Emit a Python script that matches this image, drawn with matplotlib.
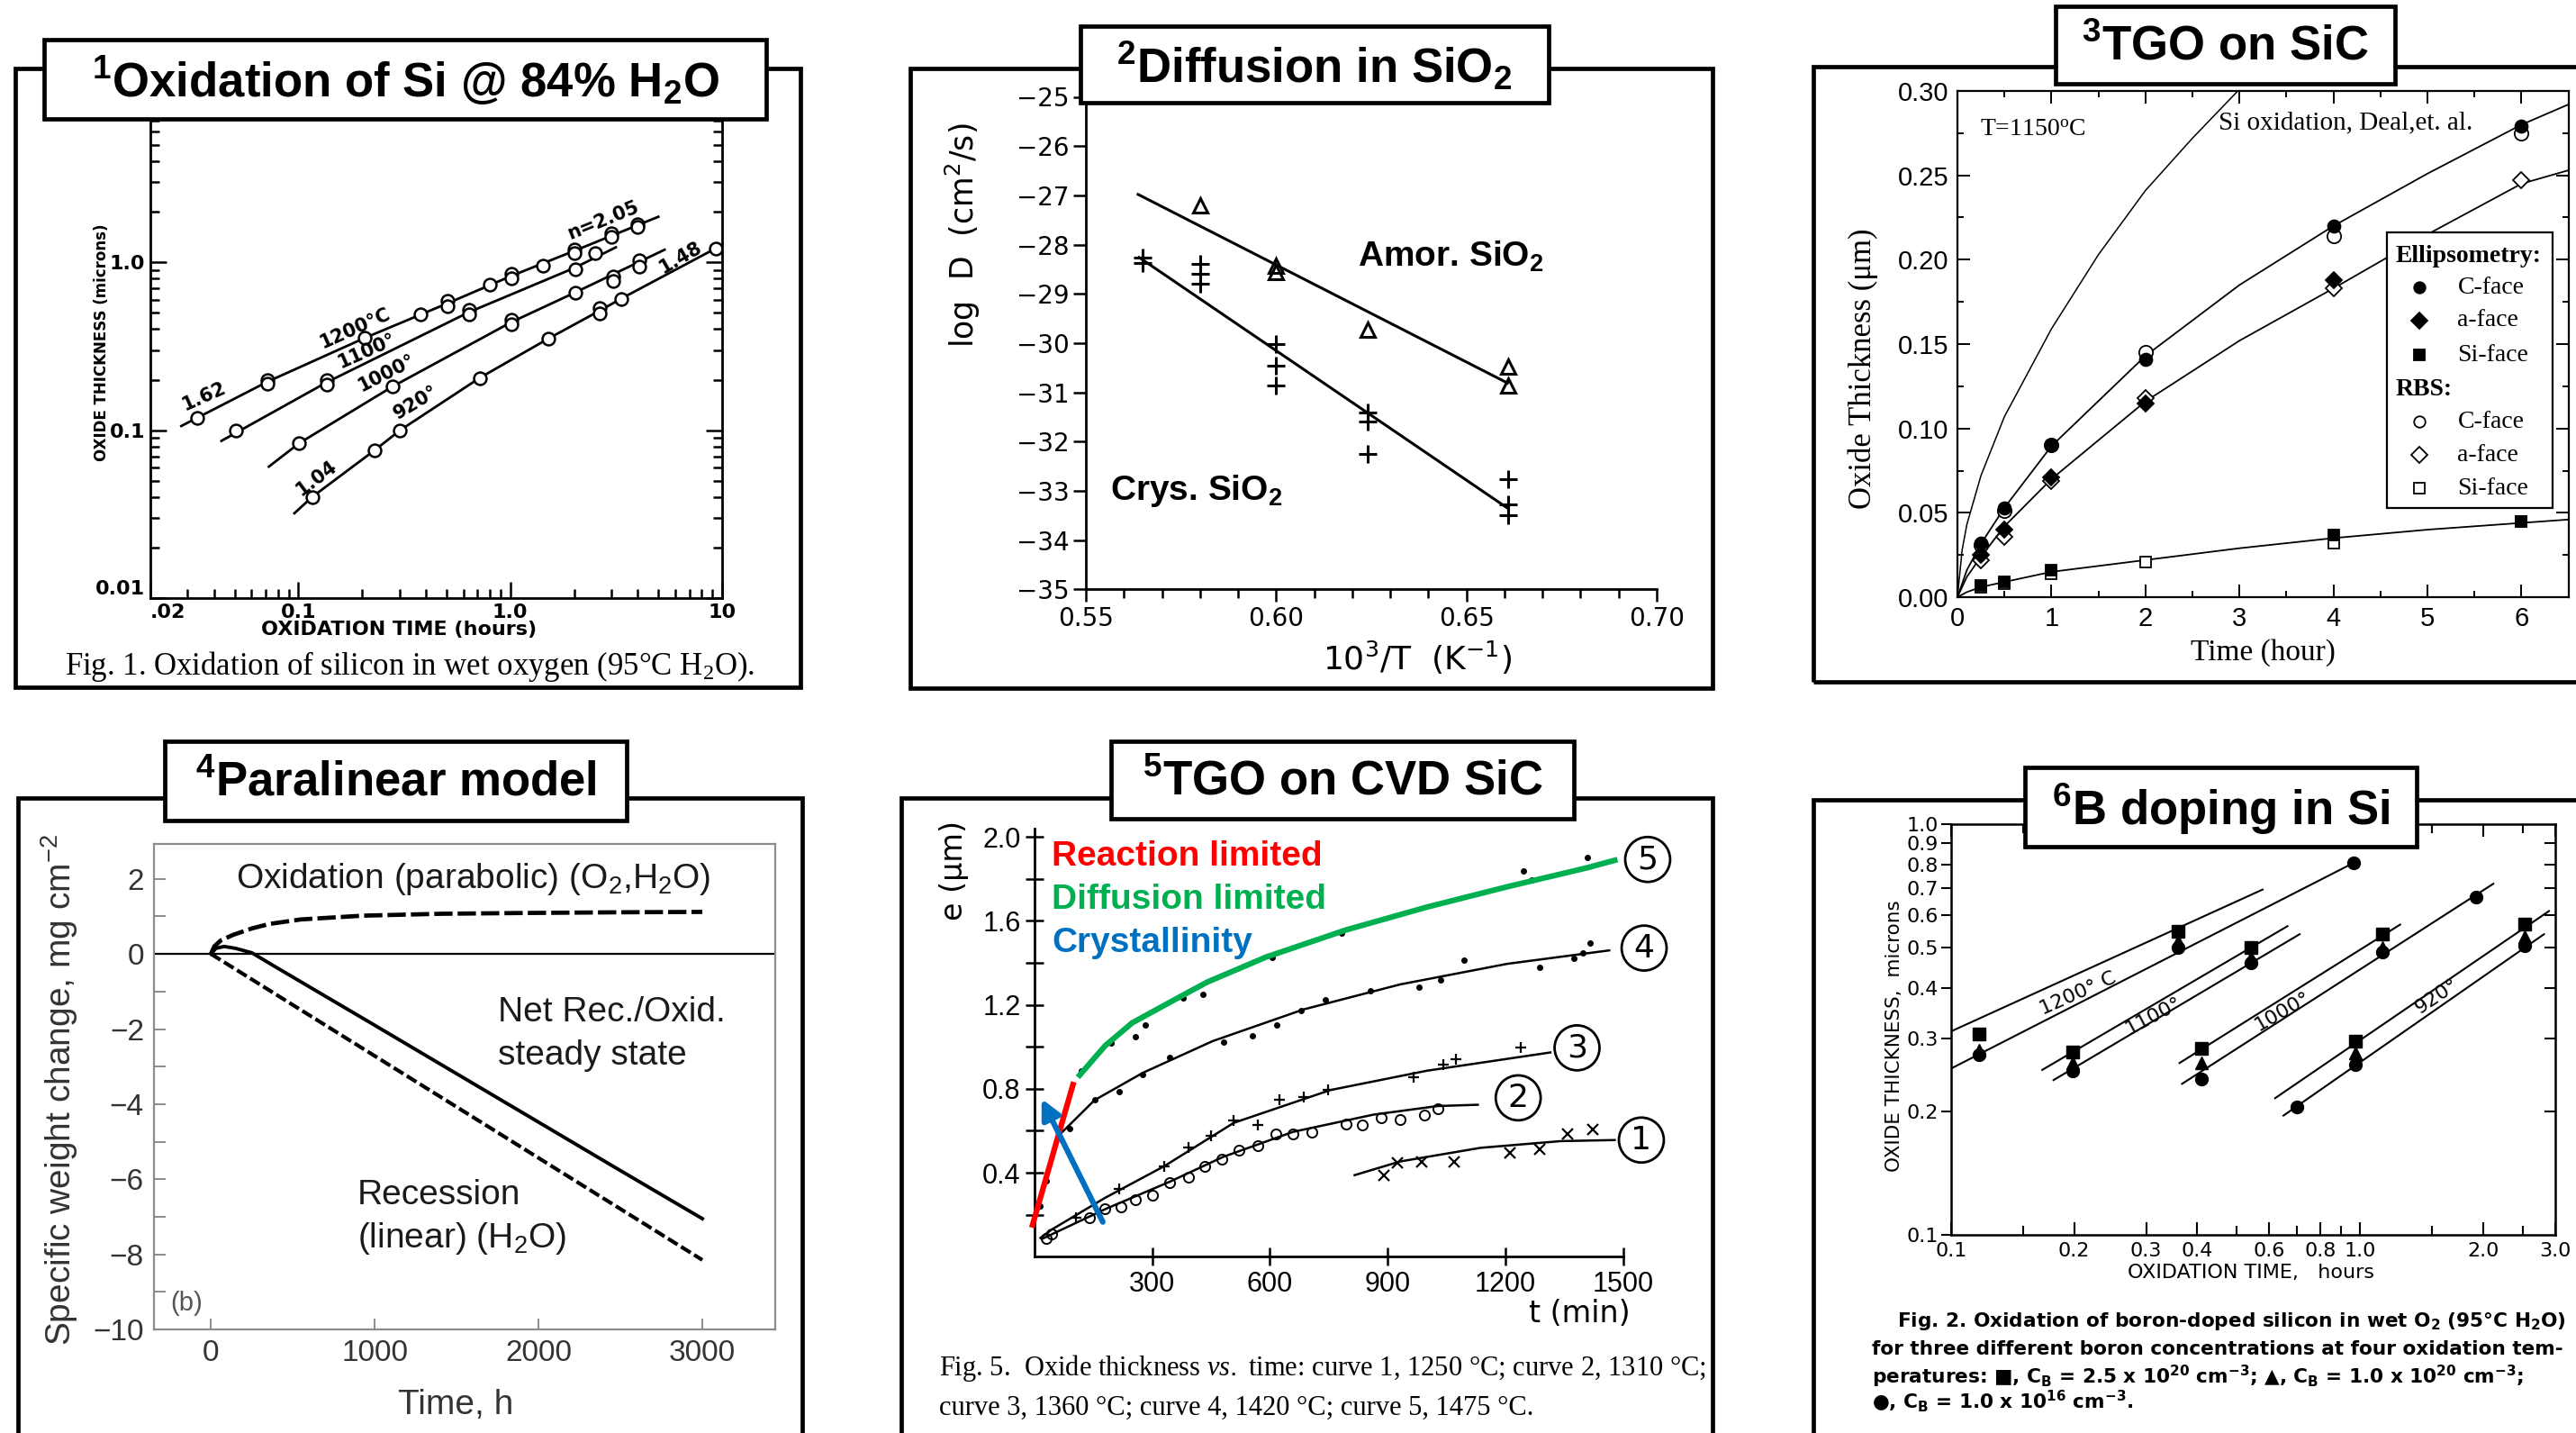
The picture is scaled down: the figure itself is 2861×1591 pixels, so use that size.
#! /usr/bin/env python3
"""
Oxidation kinetics montage: six literature panels on one sheet
"""

import matplotlib
matplotlib.use("Agg")
import matplotlib.pyplot as plt
from matplotlib.patches import Rectangle
from matplotlib.ticker import (FixedLocator, FixedFormatter, FormatStrFormatter,
                               MultipleLocator, NullFormatter, NullLocator)

# ---------------- data ----------------
titles = ["$^1$Oxidation of Si @ 84% H$_2$O", "$^2$Diffusion in SiO$_2$",
          "$^3$TGO on SiC", "$^4$Paralinear model",
          "$^5$TGO on CVD SiC", "$^6$B doping in Si"]

# panel 1: oxide thickness (microns) vs time (hours), wet O2
p1_line_t = [[0.028, 0.0717, 0.206, 0.505, 1.01, 2.0, 5.0],
             [0.0433, 0.136, 0.638, 2.02, 3.15],
             [0.0725, 0.101, 0.278, 1.01, 2.02, 5.35],
             [0.0957, 0.116, 0.229, 0.302, 0.717, 1.51, 2.64, 3.33, 9.3]]
p1_line_x = [[0.106, 0.195, 0.355, 0.57, 0.83, 1.17, 1.87],
             [0.0864, 0.193, 0.505, 0.93, 1.23],
             [0.0607, 0.0838, 0.182, 0.44, 0.661, 1.19],
             [0.032, 0.040, 0.076, 0.1, 0.205, 0.351, 0.515, 0.607, 1.21]]
p1_pt_t = [[0.0333, 0.0717, 0.0717, 0.206, 0.377, 0.505, 0.505, 0.80, 1.01,
            1.01, 1.43, 2.0, 2.0, 3.0, 3.0, 4.0, 4.0],
           [0.0506, 0.136, 0.136, 0.638, 0.638, 2.02, 2.52],
           [0.101, 0.278, 1.01, 1.01, 2.02, 3.07, 3.07, 4.05, 4.05],
           [0.116, 0.229, 0.302, 0.717, 1.51, 2.64, 2.64, 3.33, 9.3]]
p1_pt_x = [[0.119, 0.199, 0.19, 0.355, 0.493, 0.592, 0.55, 0.738, 0.86,
            0.80, 0.96, 1.2, 1.14, 1.5, 1.42, 1.68, 1.63],
           [0.1, 0.199, 0.187, 0.52, 0.493, 0.913, 1.13],
           [0.0838, 0.182, 0.453, 0.426, 0.661, 0.823, 0.774, 1.03, 0.94],
           [0.040, 0.076, 0.1, 0.205, 0.351, 0.534, 0.496, 0.607, 1.21]]
p1_notes = ["n=2.05", "1.62", "1200°C", "1100°", "1000°", "920°", "1.04", "1.48"]
p1_note_t = [2.75, 0.036, 0.185, 0.21, 0.26, 0.36, 0.122, 6.4]
p1_note_x = [1.78, 0.16, 0.405, 0.296, 0.218, 0.147, 0.052, 1.07]
p1_note_rot = [22, 24, 24, 24, 27, 31, 37, 30]

# panel 2: log D vs 1000/T
p2_amor_line_x = [0.5637, 0.6608]
p2_amor_line_y = [-26.98, -30.81]
p2_crys_line_x = [0.564, 0.661]
p2_crys_line_y = [-28.26, -33.36]
p2_amor_x = [0.580, 0.600, 0.600, 0.624, 0.661, 0.661]
p2_amor_y = [-27.2, -28.43, -28.55, -29.72, -30.48, -30.86]
p2_crys_x = [0.565, 0.565, 0.580, 0.580, 0.580, 0.600, 0.600, 0.600,
             0.624, 0.624, 0.624, 0.661, 0.661, 0.661]
p2_crys_y = [-28.26, -28.37, -28.4, -28.6, -28.8, -30.02, -30.45, -30.86,
             -31.4, -31.6, -32.25, -32.77, -33.27, -33.49]

# panel 3: oxide thickness (um) vs time (hour), T = 1150 C
p3_deal_t = [0, 0.05, 0.1, 0.25, 0.5, 1, 1.5, 2, 2.5, 3.0]
p3_deal_x = [0, 0.028, 0.043, 0.072, 0.107, 0.159, 0.203, 0.241, 0.272, 0.301]
p3_fit_t = [0, 0.1, 0.25, 0.5, 1, 2, 3, 4, 5, 6, 6.5]
p3_fit_c = [0, 0.016, 0.0316, 0.053, 0.0895, 0.143, 0.185, 0.22, 0.251, 0.28, 0.292]
p3_fit_a = [0, 0.012, 0.024, 0.042, 0.07, 0.116, 0.152, 0.183, 0.215, 0.245, 0.253]
p3_fit_s = [0, 0.003, 0.006, 0.009, 0.015, 0.022, 0.029, 0.035, 0.040, 0.044, 0.046]
p3_ell_c_t = [0.25, 0.5, 1, 2, 4, 6]
p3_ell_c = [0.032, 0.053, 0.09, 0.141, 0.22, 0.279]
p3_ell_a_t = [0.25, 0.5, 1, 2, 4]
p3_ell_a = [0.025, 0.040, 0.071, 0.115, 0.188]
p3_ell_s_t = [0.25, 0.5, 1, 4, 6]
p3_ell_s = [0.007, 0.009, 0.016, 0.037, 0.045]
p3_rbs_t = [0.25, 0.5, 1, 2, 4, 6]
p3_rbs_c = [0.031, 0.051, 0.09, 0.145, 0.214, 0.275]
p3_rbs_a = [0.022, 0.036, 0.069, 0.118, 0.183, 0.247]
p3_rbs_s = [0.006, 0.008, 0.014, 0.021, 0.032, 0.045]
p3_legend = ["Ellipsometry:", "C-face", "a-face", "Si-face",
             "RBS:", "C-face", "a-face", "Si-face"]

# panel 4: paralinear weight change (mg/cm2) vs time (h)
p4_para_t = [0, 20, 60, 136, 250, 358, 550, 927, 1400, 1877, 2500, 3000]
p4_para_w = [0, 0.2, 0.36, 0.51, 0.68, 0.8, 0.92, 1.02, 1.07, 1.09, 1.11, 1.12]
p4_net_t = [0, 30, 80, 150, 250, 400, 700, 1000, 1500, 2000, 2500, 3000]
p4_net_w = [0, 0.15, 0.2, 0.15, 0.03, -0.36, -1.13, -1.9, -3.19, -4.48, -5.77, -7.05]
p4_rec_t = [0, 3000]
p4_rec_w = [0, -8.15]

# panel 5: oxide thickness e (um) vs t (min), CVD SiC
p5_line_t = [[816, 932, 1137, 1342, 1479],
             [21, 180, 344, 481, 659, 864, 1028, 1130],
             [15, 44, 180, 331, 508, 754, 1000, 1315],
             [60, 87, 153, 276, 454, 686, 932, 1205, 1465]]
p5_line_e = [[0.389, 0.454, 0.519, 0.551, 0.556],
             [0.087, 0.227, 0.357, 0.476, 0.595, 0.677, 0.718, 0.724],
             [0.09, 0.13, 0.281, 0.432, 0.638, 0.794, 0.886, 0.973],
             [0.575, 0.624, 0.746, 0.876, 1.027, 1.178, 1.297, 1.395, 1.459]]
p5_c1_t = [891, 925, 987, 1069, 1212, 1287, 1359, 1424]
p5_c1_e = [0.389, 0.448, 0.454, 0.454, 0.497, 0.512, 0.584, 0.605]
p5_c2_t = [30, 44, 139, 180, 221, 256, 301, 344, 392, 433, 478, 522, 570,
           615, 659, 706, 795, 836, 884, 932, 994, 1028]
p5_c2_e = [0.086, 0.108, 0.184, 0.231, 0.238, 0.27, 0.292, 0.352, 0.378,
           0.432, 0.465, 0.508, 0.53, 0.584, 0.584, 0.595, 0.634, 0.627,
           0.66, 0.653, 0.677, 0.703]
p5_c3_t = [105, 215, 331, 392, 451, 508, 570, 625, 686, 748, 966, 1041, 1075, 1240]
p5_c3_e = [0.184, 0.324, 0.432, 0.519, 0.577, 0.649, 0.627, 0.746, 0.761,
           0.794, 0.854, 0.915, 0.94, 0.995]
p5_c4_t = [14, 30, 89, 153, 215, 276, 344, 481, 556, 618, 679, 741, 857,
           980, 1035, 1096, 1287, 1376, 1397, 1417]
p5_c4_e = [0.24, 0.36, 0.61, 0.746, 0.785, 0.869, 0.951, 1.023, 1.053, 1.103,
           1.174, 1.226, 1.265, 1.286, 1.319, 1.412, 1.377, 1.42, 1.449, 1.496]
p5_c5_t = [119, 194, 256, 283, 379, 429, 607, 782, 1246, 1267, 1410]
p5_c5_e = [0.886, 1.016, 1.049, 1.103, 1.232, 1.248, 1.427, 1.542, 1.838,
           1.795, 1.903]
p5_diff_t = [115, 180, 249, 344, 440, 590, 795, 1000, 1205, 1410, 1479]
p5_diff_e = [0.865, 1.005, 1.114, 1.211, 1.308, 1.427, 1.557, 1.665, 1.762,
             1.853, 1.888]
p5_react_t = [-5, 98]
p5_react_e = [0.152, 0.82]
p5_cryst_from = (174, 0.166)
p5_cryst_to = (18, 0.752)
p5_curve_ids = ["1", "2", "3", "4", "5"]
p5_id_t = [1547, 1233, 1383, 1554, 1563]
p5_id_e = [0.556, 0.757, 0.995, 1.47, 1.892]

# panel 6: B-doped Si, oxide thickness (microns) vs time (hours)
p6_temps = ["1200° C", "1100°", "1000°", "920°"]
p6_temp_t = [0.204, 0.312, 0.647, 1.54]
p6_temp_x = [0.387, 0.342, 0.35, 0.382]
p6_temp_rot = [24, 28, 30, 34]
p6_doped_t = [[0.1, 0.578], [0.167, 0.665], [0.362, 1.254], [0.62, 2.9]]
p6_doped_x = [[0.313, 0.694], [0.252, 0.565], [0.262, 0.57], [0.215, 0.615]]
p6_undoped_t = [[0.1, 0.967], [0.178, 0.712], [0.367, 2.12], [0.65, 2.82]]
p6_undoped_x = [[0.254, 0.807], [0.238, 0.54], [0.233, 0.717], [0.195, 0.54]]
p6_sq_t = [0.117, 0.359, 0.198, 0.541, 0.41, 1.135, 0.975, 2.53]
p6_sq_x = [0.308, 0.549, 0.279, 0.50, 0.285, 0.54, 0.296, 0.571]
p6_tri_x = [0.282, 0.52, 0.262, 0.473, 0.262, 0.50, 0.277, 0.532]
p6_dot_t = [0.117, 0.359, 0.967, 0.198, 0.541, 0.41, 1.135, 1.92, 0.975, 2.53, 0.702]
p6_dot_x = [0.274, 0.50, 0.807, 0.251, 0.459, 0.24, 0.489, 0.666, 0.26, 0.506, 0.205]
p6_xticks = [0.1, 0.2, 0.3, 0.4, 0.6, 0.8, 1.0, 2.0, 3.0]
p6_yticks = [0.1, 0.2, 0.3, 0.4, 0.5, 0.6, 0.7, 0.8, 0.9, 1.0]

# ---------------- layout (pixels of the 2861 x 1591 sheet) ----------------
W, H = 2861, 1591
frames = [(17, 76, 889, 763), (1011, 76, 1902, 764), (2014, 74, 2900, 757),
          (20, 886, 891, 1640), (1001, 886, 1902, 1640), (2014, 888, 2900, 1640)]
title_boxes = [(49, 44, 851, 132), (1200, 29, 1720, 114), (2283, 7, 2660, 93),
               (183, 823, 696, 911), (1234, 823, 1748, 909), (2249, 852, 2684, 940)]

plt.rcParams["font.family"] = ["Liberation Sans", "DejaVu Sans"]
plt.rcParams["mathtext.default"] = "regular"
plt.rcParams["mathtext.fontset"] = "custom"
plt.rcParams["mathtext.it"] = "Liberation Serif:italic"
plt.rcParams["mathtext.rm"] = "Liberation Sans"


def fig_rect(x0, y0, x1, y1):
    return [x0 / W, 1 - y1 / H, (x1 - x0) / W, (y1 - y0) / H]


def fig_text(fig, x, y, s, **kw):
    return fig.text(x / W, 1 - y / H, s, **kw)


def draw_box(fig, box, filled, z):
    x0, y0, x1, y1 = box
    fig.add_artist(Rectangle((x0 / W, 1 - y1 / H), (x1 - x0) / W, (y1 - y0) / H,
                             transform=fig.transFigure, fill=filled,
                             facecolor="white", edgecolor="black",
                             linewidth=3.4, zorder=z))


def main():
    fig = plt.figure(figsize=(W / 100, H / 100), dpi=100)
    fig.patch.set_facecolor("white")

    # ---------- panel 1 ----------
    ax = fig.add_axes(fig_rect(167, 105, 802, 664))
    ax.set_xscale("log")
    ax.set_yscale("log")
    ax.set_xlim(0.02, 10)
    ax.set_ylim(0.01, 10)
    for lt, lx in zip(p1_line_t, p1_line_x):
        ax.plot(lt, lx, color="black", lw=2.0)
    for pt, px in zip(p1_pt_t, p1_pt_x):
        ax.plot(pt, px, ls="none", marker="o", ms=10, mfc="white", mec="black",
                mew=1.8)
    for s, t, x, r in zip(p1_notes, p1_note_t, p1_note_x, p1_note_rot):
        ax.text(t, x, s, rotation=r, fontsize=15, fontweight="bold",
                family="DejaVu Sans", ha="center", va="center",
                rotation_mode="anchor")
    ax.xaxis.set_major_locator(FixedLocator([0.02, 0.1, 1.0, 10]))
    ax.xaxis.set_major_formatter(FixedFormatter([".02", "0.1", "1.0", "10"]))
    ax.yaxis.set_major_locator(FixedLocator([0.01, 0.1, 1.0]))
    ax.yaxis.set_major_formatter(FixedFormatter(["0.01", "0.1", "1.0"]))
    ax.xaxis.set_minor_formatter(NullFormatter())
    ax.yaxis.set_minor_formatter(NullFormatter())
    ax.tick_params(which="both", direction="in", right=True, top=False,
                   width=1.8, labelsize=16, pad=4)
    ax.tick_params(which="major", length=13)
    ax.tick_params(which="minor", length=7)
    for lab in ax.get_xticklabels() + ax.get_yticklabels():
        lab.set_fontweight("bold")
        lab.set_family("DejaVu Sans")
    ax.get_xticklabels()[0].set_horizontalalignment("left")
    ax.get_yticklabels()[0].set_verticalalignment("bottom")
    for sp in ax.spines.values():
        sp.set_linewidth(2)
    fig_text(fig, 443, 699, "OXIDATION TIME (hours)", fontsize=16,
             fontweight="bold", family="DejaVu Sans", ha="center", va="center")
    fig_text(fig, 113, 380, "OXIDE THICKNESS (microns)", fontsize=12,
             fontweight="bold", family="DejaVu Sans", rotation=90,
             ha="center", va="center")
    fig_text(fig, 455, 740,
             "Fig. 1. Oxidation of silicon in wet oxygen (95°C H$_2$O).",
             fontsize=25, family="Liberation Serif", ha="center", va="center")

    # ---------- panel 2 ----------
    ax = fig.add_axes(fig_rect(1206, 107.5, 1840, 654.4))
    ax.set_xlim(0.55, 0.70)
    ax.set_ylim(-35, -25)
    ax.spines[["top", "right"]].set_visible(False)
    for sp in ax.spines.values():
        sp.set_linewidth(2)
    ax.plot(p2_amor_line_x, p2_amor_line_y, color="black", lw=2.2)
    ax.plot(p2_crys_line_x, p2_crys_line_y, color="black", lw=2.2)
    ax.plot(p2_amor_x, p2_amor_y, ls="none", marker="^", ms=12, mfc="none",
            mec="black", mew=2.2)
    ax.plot(p2_crys_x, p2_crys_y, ls="none", marker="+", ms=15, mew=2.2,
            color="black")
    ax.xaxis.set_major_locator(MultipleLocator(0.05))
    ax.xaxis.set_major_formatter(FormatStrFormatter("%.2f"))
    ax.xaxis.set_minor_locator(MultipleLocator(0.01))
    ax.yaxis.set_major_locator(MultipleLocator(1))
    ax.tick_params(which="both", direction="out", width=1.8, labelsize=20)
    ax.tick_params(which="major", length=10)
    ax.tick_params(which="minor", length=7)
    for lab in ax.get_xticklabels() + ax.get_yticklabels():
        lab.set_family("DejaVu Sans")
    ax.text(0.6215, -28.25, "Amor. SiO$_2$", fontsize=28, fontweight="bold",
            va="center")
    ax.text(0.5565, -33.0, "Crys. SiO$_2$", fontsize=28, fontweight="bold",
            va="center")
    fig_text(fig, 1069, 261, "log  D  (cm$^2$/s)", fontsize=25,
             family="DejaVu Sans", rotation=90, ha="center", va="center")
    fig_text(fig, 1574, 730, "10$^3$/T  (K$^{-1}$)", fontsize=26,
             family="DejaVu Sans", ha="center", va="center")

    # ---------- panel 3 ----------
    ax = fig.add_axes(fig_rect(2174, 101, 2852.6, 663))
    ax.set_xlim(0, 6.5)
    ax.set_ylim(0, 0.30)
    for sp in ax.spines.values():
        sp.set_linewidth(1.6)
    ax.plot(p3_deal_t, p3_deal_x, color="black", lw=1.1)
    for fit in (p3_fit_c, p3_fit_a, p3_fit_s):
        ax.plot(p3_fit_t, fit, color="black", lw=1.3)
    mk = dict(ls="none", mec="black", mew=1.3, zorder=4)
    ax.plot(p3_rbs_t, p3_rbs_c, marker="o", ms=11, mfc="white", **mk)
    ax.plot(p3_rbs_t, p3_rbs_a, marker="D", ms=9, mfc="white", **mk)
    ax.plot(p3_rbs_t, p3_rbs_s, marker="s", ms=9, mfc="white", **mk)
    ax.plot(p3_ell_c_t, p3_ell_c, marker="o", ms=10, mfc="black", **mk)
    ax.plot(p3_ell_a_t, p3_ell_a, marker="D", ms=9, mfc="black", **mk)
    ax.plot(p3_ell_s_t, p3_ell_s, marker="s", ms=8, mfc="black", **mk)
    ax.text(0.24, 0.277, "T=1150$^{o}$C", fontsize=20,
            family="Liberation Serif", va="center")
    ax.text(2.78, 0.281, "Si oxidation, Deal,et. al.", fontsize=21,
            family="Liberation Serif", va="center")
    # legend panel
    ax.add_patch(Rectangle((4.57, 0.0526), 1.76, 0.1634, facecolor="white",
                           edgecolor="black", lw=1.6, zorder=5))
    rows_y = [0.2018, 0.1834, 0.1639, 0.1434, 0.1229, 0.1039, 0.0842, 0.0645]
    row_marks = [None, ("o", "black"), ("D", "black"), ("s", "black"), None,
                 ("o", "white"), ("D", "white"), ("s", "white")]
    for lab, yy, m in zip(p3_legend, rows_y, row_marks):
        if m is None:
            ax.text(4.66, yy, lab, fontsize=20, fontweight="bold",
                    family="Liberation Serif", va="center", zorder=6)
        else:
            ax.plot([4.917], [yy], marker=m[0], ms=9, mfc=m[1], mec="black",
                    mew=1.3, zorder=6)
            ax.text(5.32, yy, lab, fontsize=20, family="Liberation Serif",
                    va="center", zorder=6)
    ax.xaxis.set_major_locator(MultipleLocator(1))
    ax.xaxis.set_minor_locator(MultipleLocator(0.5))
    ax.yaxis.set_major_locator(MultipleLocator(0.05))
    ax.yaxis.set_minor_locator(MultipleLocator(0.025))
    ax.yaxis.set_major_formatter(FormatStrFormatter("%.2f"))
    ax.tick_params(which="both", direction="in", top=True, right=True,
                   width=1.4, labelsize=21, pad=7)
    ax.tick_params(which="major", length=10)
    ax.tick_params(which="minor", length=5)
    fig_text(fig, 2069, 409, "Oxide Thickness (μm)", fontsize=25,
             family="Liberation Serif", rotation=90, ha="center", va="center")
    fig_text(fig, 2513, 725, "Time (hour)", fontsize=24,
             family="Liberation Serif", ha="center", va="center")

    # ---------- panel 4 ----------
    ax = fig.add_axes(fig_rect(171, 937, 861, 1476))
    ax.set_xlim(-348, 3445)
    ax.set_ylim(-10, 2.93)
    for sp in ax.spines.values():
        sp.set_color("#8c8c8c")
        sp.set_linewidth(1.6)
    ax.axhline(0, color="black", lw=1.6)
    ax.plot(p4_para_t, p4_para_w, color="black", lw=3.4, ls=(0, (4.3, 1.2)))
    ax.plot(p4_net_t, p4_net_w, color="black", lw=2.8)
    ax.plot(p4_rec_t, p4_rec_w, color="black", lw=3.0, ls=(0, (3, 1.1)))
    ax.xaxis.set_major_locator(MultipleLocator(1000))
    ax.yaxis.set_major_locator(MultipleLocator(2))
    ax.yaxis.set_minor_locator(MultipleLocator(1))
    ax.tick_params(which="both", direction="in", color="#8c8c8c", width=1.4,
                   labelsize=24, labelcolor="#333333", pad=8)
    ax.tick_params(which="major", length=9)
    ax.tick_params(which="minor", length=9)
    txt = dict(fontsize=28, color="#1a1a1a", va="center")
    ax.text(152, 2.0, "Oxidation (parabolic) (O$_2$,H$_2$O)", **txt)
    ax.text(1750, -1.56, "Net Rec./Oxid.", **txt)
    ax.text(1750, -2.71, "steady state", **txt)
    ax.text(895, -6.42, "Recession", **txt)
    ax.text(895, -7.57, "(linear) (H$_2$O)", **txt)
    ax.text(-245, -9.3, "(b)", fontsize=21, color="#555555", va="center")
    fig_text(fig, 66, 1210, "Specific weight change, mg cm$^{-2}$", fontsize=28,
             color="#333333", rotation=90, ha="center", va="center")
    fig_text(fig, 506, 1560, "Time, h", fontsize=28, color="#333333",
             ha="center", va="center")

    # ---------- panel 5 ----------
    ax = fig.add_axes(fig_rect(1149, 919.7, 1802.5, 1395.4))
    ax.set_xlim(0, 1500)
    ax.set_ylim(0, 2.04)
    ax.spines[["top", "right"]].set_visible(False)
    for sp in ax.spines.values():
        sp.set_linewidth(2)
    for lt, le in zip(p5_line_t, p5_line_e):
        ax.plot(lt, le, color="black", lw=1.8)
    ax.plot(p5_c1_t, p5_c1_e, ls="none", marker="x", ms=8, mew=1.6, color="black")
    ax.plot(p5_c2_t, p5_c2_e, ls="none", marker="o", ms=8, mfc="none",
            mec="black", mew=1.4)
    ax.plot(p5_c3_t, p5_c3_e, ls="none", marker="+", ms=9, mew=1.6, color="black")
    ax.plot(p5_c4_t, p5_c4_e, ls="none", marker="o", ms=4, color="black")
    ax.plot(p5_c5_t, p5_c5_e, ls="none", marker="o", ms=4, color="black")
    ax.plot(p5_diff_t, p5_diff_e, color="#00b050", lw=4.5, zorder=5)
    ax.plot(p5_react_t, p5_react_e, color="#ff0000", lw=4.5, zorder=5,
            clip_on=False)
    ax.annotate("", xy=p5_cryst_to, xytext=p5_cryst_from, zorder=6,
                arrowprops=dict(arrowstyle="-|>", color="#0070c0", lw=4.5,
                                mutation_scale=32, shrinkA=0, shrinkB=0))
    for s, t, e in zip(p5_curve_ids, p5_id_t, p5_id_e):
        ax.text(t, e, s, fontsize=26, ha="center", va="center",
                family="DejaVu Sans",
                bbox=dict(boxstyle="circle,pad=0.22", fc="white", ec="black",
                          lw=2))
    ax.text(44, 1.907, "Reaction limited", color="#ff0000", fontsize=28,
            fontweight="bold", va="center")
    ax.text(44, 1.70, "Diffusion limited", color="#00b050", fontsize=28,
            fontweight="bold", va="center")
    ax.text(44, 1.496, "Crystallinity", color="#0070c0", fontsize=28,
            fontweight="bold", va="center")
    ax.xaxis.set_major_locator(FixedLocator([300, 600, 900, 1200, 1500]))
    ax.yaxis.set_major_locator(FixedLocator([0.2, 0.4, 0.6, 0.8, 1.0, 1.2,
                                             1.4, 1.6, 1.8, 2.0]))
    ax.yaxis.set_major_formatter(FixedFormatter(["", "0.4", "", "0.8", "",
                                                 "1.2", "", "1.6", "", "2.0"]))
    ax.tick_params(which="both", direction="inout", width=1.8, length=14,
                   labelsize=22, pad=4)
    fig_text(fig, 1060, 967, "e (μm)", fontsize=24, rotation=90,
             family="DejaVu Sans", ha="center", va="center")
    fig_text(fig, 1754, 1459, "t (min)", fontsize=24, family="DejaVu Sans",
             ha="center", va="center")
    cap = dict(fontsize=22, family="Liberation Serif", ha="left", va="center")
    fig_text(fig, 1043, 1519, r"Fig. 5.  Oxide thickness $\it{vs.}$ time: "
             "curve 1, 1250 °C; curve 2, 1310 °C;", **cap)
    fig_text(fig, 1043, 1563, "curve 3, 1360 °C; curve 4, 1420 °C; curve 5, "
             "1475 °C.", **cap)

    # ---------- panel 6 ----------
    ax = fig.add_axes(fig_rect(2167, 915.4, 2837.7, 1370.6))
    ax.set_xscale("log")
    ax.set_yscale("log")
    ax.set_xlim(0.1, 3.0)
    ax.set_ylim(0.1, 1.0)
    for sp in ax.spines.values():
        sp.set_linewidth(1.8)
    for lt, lx in zip(p6_doped_t, p6_doped_x):
        ax.plot(lt, lx, color="black", lw=1.5)
    for lt, lx in zip(p6_undoped_t, p6_undoped_x):
        ax.plot(lt, lx, color="black", lw=1.5)
    ax.plot(p6_dot_t, p6_dot_x, ls="none", marker="o", ms=10, color="black")
    ax.plot(p6_sq_t, p6_tri_x, ls="none", marker="^", ms=10, color="black")
    ax.plot(p6_sq_t, p6_sq_x, ls="none", marker="s", ms=10, color="black")
    for s, t, x, r in zip(p6_temps, p6_temp_t, p6_temp_x, p6_temp_rot):
        ax.text(t, x, s, rotation=r, fontsize=16, family="DejaVu Sans",
                ha="center", va="center", rotation_mode="anchor")
    ax.xaxis.set_major_locator(FixedLocator(p6_xticks))
    ax.xaxis.set_major_formatter(FixedFormatter([f"{v:.1f}" for v in p6_xticks]))
    ax.xaxis.set_minor_locator(FixedLocator([0.15, 0.5, 0.7, 0.9, 1.5, 2.5]))
    ax.xaxis.set_minor_formatter(NullFormatter())
    ax.yaxis.set_major_locator(FixedLocator(p6_yticks))
    ax.yaxis.set_major_formatter(FixedFormatter([f"{v:.1f}" for v in p6_yticks]))
    ax.yaxis.set_minor_locator(NullLocator())
    ax.tick_params(axis="x", which="both", direction="in", top=True,
                   width=1.5, labelsize=16, pad=6)
    ax.tick_params(axis="x", which="major", length=10)
    ax.tick_params(axis="x", which="minor", length=7)
    ax.tick_params(axis="y", direction="out", width=1.5, length=8,
                   labelsize=16, pad=2)
    right = ax.secondary_yaxis("right")
    right.yaxis.set_major_locator(FixedLocator(p6_yticks[1:-1]))
    right.yaxis.set_minor_locator(NullLocator())
    right.tick_params(direction="in", length=9, width=1.5, labelright=False)
    for lab in ax.get_xticklabels() + ax.get_yticklabels():
        lab.set_family("DejaVu Sans")
    fig_text(fig, 2104, 1150, "OXIDE THICKNESS,  microns", fontsize=15.5,
             family="DejaVu Sans", rotation=90, ha="center", va="center")
    fig_text(fig, 2500, 1413, "OXIDATION TIME,   hours", fontsize=16,
             family="DejaVu Sans", ha="center", va="center")
    cap6 = dict(fontsize=15.6, family="DejaVu Sans", fontweight="bold",
                ha="left", va="center")
    fig_text(fig, 2107, 1467, "Fig. 2. Oxidation of boron-doped silicon in wet "
             "O$_2$ (95°C H$_2$O)", **cap6)
    fig_text(fig, 2079, 1498, "for three different boron concentrations at "
             "four oxidation tem-", **cap6)
    fig_text(fig, 2079, 1528, "peratures: ■, C$_B$ = 2.5 x 10$^{20}$ cm$^{-3}$; "
             "▲, C$_B$ = 1.0 x 10$^{20}$ cm$^{-3}$;", **cap6)
    fig_text(fig, 2079, 1556, "●, C$_B$ = 1.0 x 10$^{16}$ cm$^{-3}$.", **cap6)

    # ---------- frames and title boxes ----------
    for box in frames:
        draw_box(fig, box, False, 15)
    for box, title in zip(title_boxes, titles):
        draw_box(fig, box, True, 20)
        x0, y0, x1, y1 = box
        fig_text(fig, (x0 + x1) / 2, (y0 + y1) / 2 + 2, title, fontsize=38,
                 fontweight="bold", ha="center", va="center", zorder=21)

    fig.savefig("out.png", dpi=100, facecolor="white")


if __name__ == "__main__":
    main()
